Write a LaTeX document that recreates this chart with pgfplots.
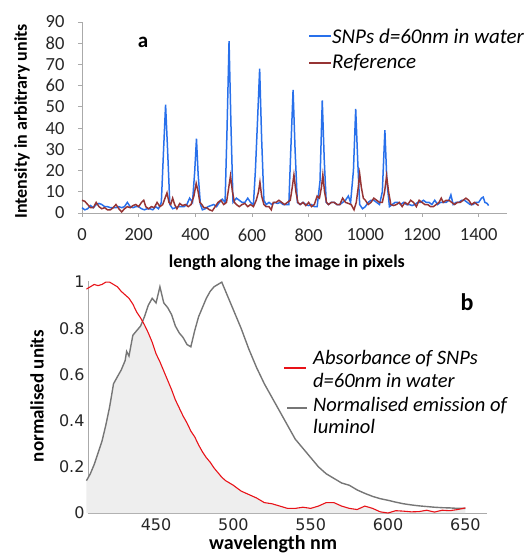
\documentclass[border=0pt]{standalone}
\usepackage{fontspec}
\setmainfont{Carlito}
\newfontfamily\dejavu{DejaVu Sans}
\usepackage{pgfplots}
\pgfplotsset{compat=1.18}
\definecolor{snpblue}{RGB}{40,112,235}
\definecolor{refred}{RGB}{150,52,52}
\definecolor{absred}{RGB}{232,18,24}
\definecolor{emgray}{RGB}{118,118,118}
\definecolor{fillgray}{RGB}{238,238,238}
\definecolor{axgray}{RGB}{170,170,170}

\newcommand{\px}[1]{\fontsize{#1}{#1}\selectfont}

\begin{document}
\begin{tikzpicture}
\useasboundingbox (0,0) rectangle (529pt,554pt);

% ---- panel a: line profiles along the image
\begin{axis}[at={(82pt,341pt)}, anchor=south west, scale only axis,
  width=425pt, height=191pt, xmin=0, xmax=1500, ymin=0, ymax=90,
  axis x line*=bottom, axis y line*=left,
  axis line style={axgray, line width=0.8pt},
  tick style={axgray, line width=0.8pt}, tick align=outside, major tick length=4pt,
  xtick={0,200,...,1400}, ytick={0,10,...,90},
  /pgf/number format/assume math mode=true, /pgf/number format/1000 sep={},
  ticklabel style={font=\px{18.5}, text=black!85},
  xticklabel style={yshift=-8pt}, yticklabel style={xshift=-10pt},
  xlabel={length along the image in pixels}, ylabel={Intensity in arbitrary units},
  xlabel style={font=\bfseries\px{18}, at={(axis description cs:0.482,-0.262)}, anchor=center},
  ylabel style={font=\bfseries\px{18}, at={(axis description cs:-0.141,0.48)}, anchor=center, rotate=0},
  clip=false]
\addplot[snpblue, line width=1.5pt] coordinates {
(0,2.5) (10,1.5) (20,2) (30,3.5) (40,2.5) (50,4) (60,4.5) (70,4) (80,3) (90,3) (100,2.5)
(110,2.5) (120,2.5) (130,3) (140,2.5) (150,3) (160,5) (170,3) (180,2.5) (190,3) (200,3)
(210,2) (220,1.5) (230,2) (240,2) (250,1.5) (260,3) (270,2) (280,5) (288,30) (295,51)
(302,30) (310,4) (320,2) (330,2.5) (340,3) (350,3) (360,3) (370,4) (380,7) (390,5)
(398,20) (404,35) (410,18) (418,4) (425,1.5) (435,2) (445,3) (455,3.5) (465,4) (475,3)
(485,5) (495,6.5) (505,5) (512,40) (519,81) (526,40) (533,5) (545,7) (555,6) (565,5)
(575,5) (585,7) (595,5) (605,4) (612,20) (620,45) (627,68) (634,35) (642,6) (650,4)
(660,5) (670,4) (680,5) (690,4.5) (700,5) (710,4) (720,4) (730,4) (737,30) (745,58)
(752,30) (760,5) (770,4) (780,5) (790,4) (800,3.5) (810,4) (820,3) (830,3) (840,15)
(848,53) (855,25) (862,5) (870,4) (880,5) (890,5) (900,4) (910,4) (920,5) (930,6)
(940,8) (948,5) (958,20) (966,49) (973,25) (980,4) (990,2) (1000,3) (1010,5) (1020,6)
(1030,6) (1040,5) (1050,4) (1060,10) (1069,39) (1076,15) (1085,3) (1095,4) (1105,5)
(1115,5) (1125,4) (1135,5) (1145,4) (1155,4) (1165,3.5) (1175,4) (1185,5) (1195,5)
(1205,6) (1215,5) (1225,5) (1235,4) (1245,6) (1255,4) (1265,5) (1275,5) (1285,5)
(1295,6) (1302,8.5) (1310,4) (1320,5) (1330,5) (1340,6) (1350,6) (1360,5) (1370,4)
(1380,4) (1390,5) (1400,5) (1410,7) (1416,7.5) (1422,5) (1430,4.5) (1435,3.5)
};
\addplot[refred, line width=1.5pt] coordinates {
(0,6) (10,5.5) (20,4) (30,2.5) (40,2.5) (50,5) (60,3) (70,2) (80,2.5) (90,1.5) (100,1.5)
(110,2.5) (120,4) (130,2) (140,0.5) (150,2) (160,3) (170,2.5) (180,3.5) (190,4) (200,3)
(210,5) (218,6) (225,3) (235,2) (245,3) (255,2.5) (265,5) (275,3) (285,4) (293,7)
(300,9.5) (307,5) (313,4) (320,7) (327,4) (335,2) (345,4.5) (355,3.5) (365,4) (375,3)
(385,4) (395,8) (403,14) (410,10) (416,5) (423,4) (430,2.5) (440,2.5) (450,1.5) (460,1)
(470,3) (480,5) (490,6) (500,4) (510,5) (518,12) (524,17.5) (531,10) (538,5) (545,4)
(555,3) (565,4) (575,4.5) (585,3) (595,4) (605,3) (615,6) (623,10) (628,14.5) (634,8)
(642,4) (650,3) (660,3) (668,1.5) (675,5) (685,5) (695,6) (705,5) (715,4) (725,5)
(735,6) (742,12) (748,18) (755,10) (762,5) (770,4) (780,5) (790,3.5) (800,5) (810,3)
(820,4) (830,8) (838,7) (845,12) (850,18) (856,10) (863,5) (870,4) (880,5) (890,5)
(900,4) (910,4) (920,7) (930,5) (940,4.5) (950,4) (960,1.5) (968,5) (975,12) (980,18.5)
(986,12) (993,7) (1000,6) (1010,4) (1020,5) (1030,7) (1040,6) (1050,5) (1060,5)
(1068,10) (1075,17.5) (1082,10) (1090,4) (1100,3.5) (1110,4) (1120,5) (1130,3)
(1140,5) (1150,4) (1160,6) (1170,5) (1180,3) (1190,6) (1200,5) (1210,4) (1220,4)
(1230,3) (1240,3) (1250,4) (1260,5) (1268,7) (1275,5) (1285,6) (1295,6) (1305,5)
(1315,4) (1325,5) (1335,5) (1345,6) (1355,7) (1365,6) (1375,4) (1385,5) (1395,4)
(1400,3.5)
};
\end{axis}

% legend and tag of panel a
\draw[snpblue, line width=1.5pt] (309pt,518pt) -- (331pt,518pt);
\node[anchor=west, inner sep=1pt, font=\itshape\px{21}] at (331pt,518pt) {SNPs d=60nm in water};
\draw[refred, line width=1.5pt] (309pt,491pt) -- (331pt,491pt);
\node[anchor=west, inner sep=1pt, font=\itshape\px{21}] at (331pt,491pt) {Reference};
\node[font=\bfseries\px{21}] at (143pt,512pt) {a};

% ---- panel b: spectra
\begin{axis}[at={(88pt,41pt)}, anchor=south west, scale only axis,
  width=399pt, height=232pt, xmin=406, xmax=664, ymin=0, ymax=1.005,
  axis x line*=bottom, axis y line*=left,
  axis line style={axgray, line width=0.8pt},
  major tick length=0pt,
  xtick={450,500,...,650}, ytick={0,0.2,...,1},
  yticklabels={0,0.2,0.4,0.6,0.8,1},
  ticklabel style={font=\dejavu\px{16}, text=black!85},
  /pgf/number format/assume math mode=true,
  xticklabel style={yshift=-2pt},
  xlabel={wavelength nm}, ylabel={normalised units},
  xlabel style={font=\bfseries\px{20}, at={(axis description cs:0.464,-0.135)}, anchor=center},
  ylabel style={font=\bfseries\px{19}, at={(axis description cs:-0.128,0.504)}, anchor=center, rotate=0},
  clip=false]
% overlap of the two spectra (lower of the two at each wavelength)
\addplot[fill=fillgray, draw=none] coordinates {
(405,0.14) (407.5,0.17) (410,0.21) (412.5,0.26) (415,0.31) (417.5,0.38) (420,0.46)
(422.5,0.56) (425,0.59) (427.5,0.62) (430,0.66) (431,0.70) (432.5,0.68) (435,0.77)
(437.5,0.79) (440,0.81) (441.5,0.825) (442.5,0.815) (445,0.78) (447.5,0.74) (450,0.69)
(452.5,0.655) (455,0.615) (457.5,0.575) (460,0.535) (462.5,0.49) (465,0.455)
(467.5,0.42) (470,0.39) (472.5,0.355) (475,0.33) (477.5,0.295) (480,0.265)
(482.5,0.24) (485,0.22) (487.5,0.195) (490,0.175) (492.5,0.155) (495,0.14)
(497.5,0.13) (500,0.12) (505,0.095) (510,0.08) (515,0.065) (520,0.045) (525,0.04)
(530,0.03) (535,0.02) (540,0.02) (545,0.025) (550,0.02) (555,0.03) (560,0.045)
(565,0.045) (570,0.03) (575,0.02) (580,0.015) (585,0.03) (590,0.02) (595,0.005)
(600,0.0) (605,0.01) (610,0.008) (615,0.005) (620,0.006) (625,0.012) (630,0.004)
(635,0.012) (640,0.01) (645,0.015) (650,0.02)
} \closedcycle;
\addplot[emgray, line width=1.4pt] coordinates {
(405,0.14) (407.5,0.17) (410,0.21) (412.5,0.26) (415,0.31) (417.5,0.38) (420,0.46)
(422.5,0.56) (425,0.59) (427.5,0.62) (430,0.66) (431,0.70) (432.5,0.68) (435,0.77)
(437.5,0.79) (440,0.81) (442.5,0.85) (445,0.90) (447.5,0.93) (450,0.91) (452.5,0.98)
(455,0.91) (457.5,0.89) (460,0.86) (462.5,0.81) (465,0.78) (467.5,0.76) (470,0.73)
(472.5,0.72) (475,0.79) (477.5,0.85) (480,0.89) (482.5,0.93) (485,0.96) (487.5,0.98)
(490,0.99) (492.5,1.0) (495,0.96) (497.5,0.92) (500,0.88) (505,0.80) (510,0.71)
(515,0.63) (520,0.56) (525,0.50) (530,0.44) (535,0.38) (540,0.32) (545,0.28)
(550,0.24) (555,0.20) (560,0.17) (565,0.15) (570,0.13) (575,0.12) (580,0.10)
(585,0.085) (590,0.072) (595,0.062) (600,0.055) (605,0.047) (610,0.04) (615,0.035)
(620,0.031) (625,0.028) (630,0.025) (635,0.023) (640,0.022) (645,0.02) (650,0.02)
};
\addplot[absred, line width=1.1pt] coordinates {
(405,0.97) (407.5,0.98) (410,0.99) (412.5,0.985) (415,0.99) (417.5,1.0) (420,1.0)
(422.5,0.99) (425,0.98) (427.5,0.96) (430,0.945) (432.5,0.93) (435,0.905)
(437.5,0.87) (440,0.845) (442.5,0.815) (445,0.78) (447.5,0.74) (450,0.69)
(452.5,0.655) (455,0.615) (457.5,0.575) (460,0.535) (462.5,0.49) (465,0.455)
(467.5,0.42) (470,0.39) (472.5,0.355) (475,0.33) (477.5,0.295) (480,0.265)
(482.5,0.24) (485,0.22) (487.5,0.195) (490,0.175) (492.5,0.155) (495,0.14)
(497.5,0.13) (500,0.12) (505,0.095) (510,0.08) (515,0.065) (520,0.045) (525,0.04)
(530,0.03) (535,0.02) (540,0.02) (545,0.025) (550,0.02) (555,0.03) (560,0.045)
(565,0.045) (570,0.03) (575,0.02) (580,0.015) (585,0.03) (590,0.02) (595,0.005)
(600,0.0) (605,0.01) (610,0.008) (615,0.005) (620,0.006) (625,0.012) (630,0.004)
(635,0.012) (640,0.01) (645,0.015) (650,0.022)
};
\end{axis}

% legend and tag of panel b
\draw[absred, line width=1.1pt] (284pt,186pt) -- (306pt,186pt);
\node[anchor=west, align=left, inner sep=1pt, font=\itshape\px{20.5}] at (312pt,185pt)
  {Absorbance of SNPs\\[2pt]d=60nm in water};
\draw[emgray, line width=1.4pt] (287pt,146pt) -- (307pt,146pt);
\node[anchor=north west, align=left, inner sep=1pt, font=\itshape\px{20.5}] at (312pt,158pt)
  {Normalised emission of\\[2pt]luminol};
\node[font=\bfseries\px{24}] at (467pt,252pt) {b};
\end{tikzpicture}
\end{document}
